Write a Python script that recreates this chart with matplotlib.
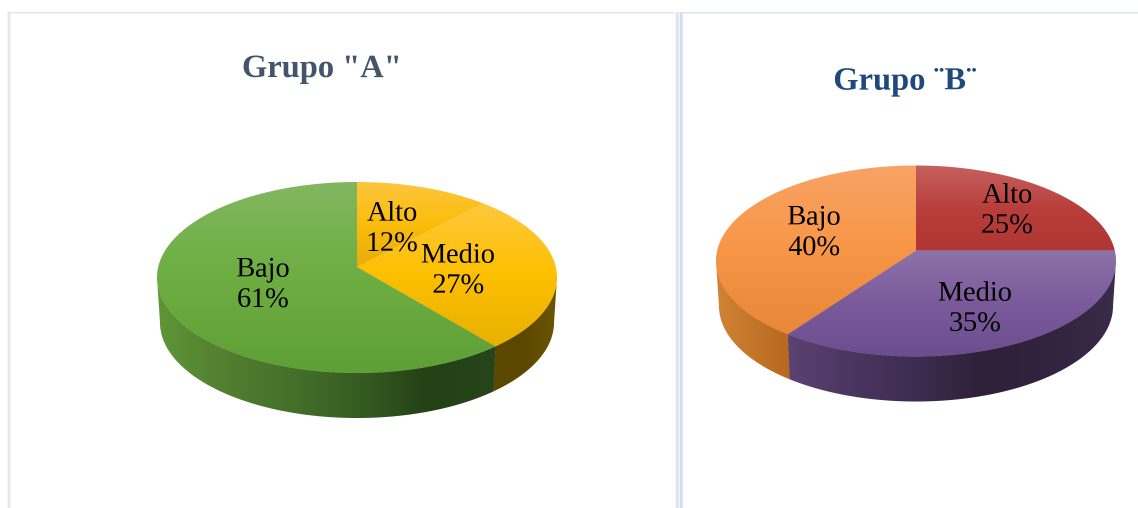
import numpy as np
import matplotlib
matplotlib.use("Agg")
import matplotlib.pyplot as plt
from matplotlib.colors import LinearSegmentedColormap
from matplotlib.patches import Polygon

# Pie values, clockwise from twelve o'clock
sliceNames = ["Alto", "Medio", "Bajo"]
valuesA = [12, 27, 61]
valuesB = [25, 35, 40]

# Gradient stops for each slice: top face runs top to bottom, side runs left to right
faceColorsA = [["#fdc63f", "#fbbd0a", "#e8ac0c"], ["#ffc83f", "#fdc000", "#e7b000"], ["#82b760", "#6dad42", "#5fa036"]]
sideColorsA = [None, ["#5a4700", "#5c4800", "#6d5600"], ["#5f9636", "#527f30", "#44702a", "#365c22", "#244116", "#27451a"]]
faceColorsB = [["#c6625f", "#b93f3d", "#b03634"], ["#8d74a9", "#7b5a9b", "#6b4d8d"], ["#f8a366", "#f79646", "#e88639"]]
sideColorsB = [None, ["#5b4272", "#4a3660", "#3c2c50", "#2e2038", "#32243f", "#3a2c4a"], ["#d08434", "#b7681f"]]

# Perspective of the pie discs
persp = 0.11
radiusX = 198.8
radiusY = 94.35
depth = 45
supersample = 3

fig = plt.figure(figsize=(11.38, 5.08), dpi=100)
ax = fig.add_axes([0, 0, 1, 1])

# The wall is only visible between the left and right extremes of the rim
wallStart = np.degrees(np.arccos(-persp))
wallEnd = 360 - wallStart


# Screen position of a rim point, angle in degrees clockwise from the top
def rimPoints(cx, cy, angles, shrink=1.0, drop=0):
    t = np.radians(angles)
    u, v = np.sin(t), np.cos(t)
    w = 1 + persp * v
    return np.column_stack([cx + shrink * radiusX * u / w, cy - radiusY * v / w + drop])


def gradientFill(points, colors, vertical):
    x0, y0 = points.min(axis=0)
    x1, y1 = points.max(axis=0)
    cmap = LinearSegmentedColormap.from_list("fill", colors)
    ramp = np.linspace(0, 1, 256)
    ramp = ramp.reshape(-1, 1) if vertical else ramp.reshape(1, -1)
    # a little wider than the shape, the clip path gives the real edge
    im = ax.imshow(ramp, cmap=cmap, vmin=0, vmax=1, extent=[x0 - 1, x1 + 1, y1 + 1, y0 - 1],
                   aspect="auto", interpolation="bilinear")
    outline = Polygon(points, closed=True, facecolor="none", edgecolor="none", transform=ax.transData)
    ax.add_patch(outline)
    im.set_clip_path(outline)


def drawPie(cx, cy, values, faceColors, sideColors, labelPos):
    edges = np.cumsum([0] + values) * 3.6
    for i in range(len(values)):
        start = max(edges[i], wallStart)
        end = min(edges[i + 1], wallEnd)
        if start >= end:
            continue
        angles = np.linspace(start, end, 200)
        upper = rimPoints(cx, cy, angles)
        lower = rimPoints(cx, cy, angles, shrink=0.985, drop=depth)
        gradientFill(np.vstack([upper, lower[::-1]]), sideColors[i], False)
    for i in range(len(values)):
        angles = np.linspace(edges[i], edges[i + 1], 200)
        face = np.vstack([[cx, cy], rimPoints(cx, cy, angles)])
        gradientFill(face, faceColors[i], True)
    for name, val, (lx, ly) in zip(sliceNames, values, labelPos):
        ax.text(lx, ly, f"{name}\n{val}%", ha="center", va="center", fontsize=20.5,
                family="Liberation Serif", color="black", linespacing=1.23)


drawPie(357, 267, valuesA, faceColorsA, sideColorsA, [(392, 229), (458, 271), (263, 285)])
drawPie(916, 250.5, valuesB, faceColorsB, sideColorsB, [(1007, 211), (975, 309), (814, 233)])

ax.text(322, 69, 'Grupo "A"', ha="center", va="center", fontsize=23.4, fontweight="bold",
        family="Liberation Serif", color="#44546a")
ax.text(905, 82, "Grupo ¨B¨", ha="center", va="center", fontsize=23.4, fontweight="bold",
        family="Liberation Serif", color="#1f497d")

# Panel borders
ax.plot([9, 9], [12, 508], color="#e4e7eb", lw=2, solid_capstyle="butt")
ax.plot([8, 674], [12.5, 12.5], color="#e1e4e8", lw=1, solid_capstyle="butt")
ax.plot([677, 677], [12, 508], color="#e1e4e8", lw=2.2, solid_capstyle="butt")
ax.plot([681, 681], [12, 508], color="#cfdff0", lw=2.2, solid_capstyle="butt")
ax.plot([680, 1138], [12.5, 12.5], color="#d5e3f2", lw=1, solid_capstyle="butt")

ax.set_xlim(0, 1138)
ax.set_ylim(508, 0)
ax.axis("off")

# Render large and average down, image clip paths have hard edges otherwise
fig.set_dpi(100 * supersample)
fig.patch.set_facecolor("white")
fig.canvas.draw()
big = np.asarray(fig.canvas.buffer_rgba())[:, :, :3].astype(float)
rows = big.shape[0] // supersample
cols = big.shape[1] // supersample
small = big[:rows * supersample, :cols * supersample].reshape(rows, supersample, cols, supersample, 3).mean(axis=(1, 3))
plt.imsave("out.png", small.astype(np.uint8))
